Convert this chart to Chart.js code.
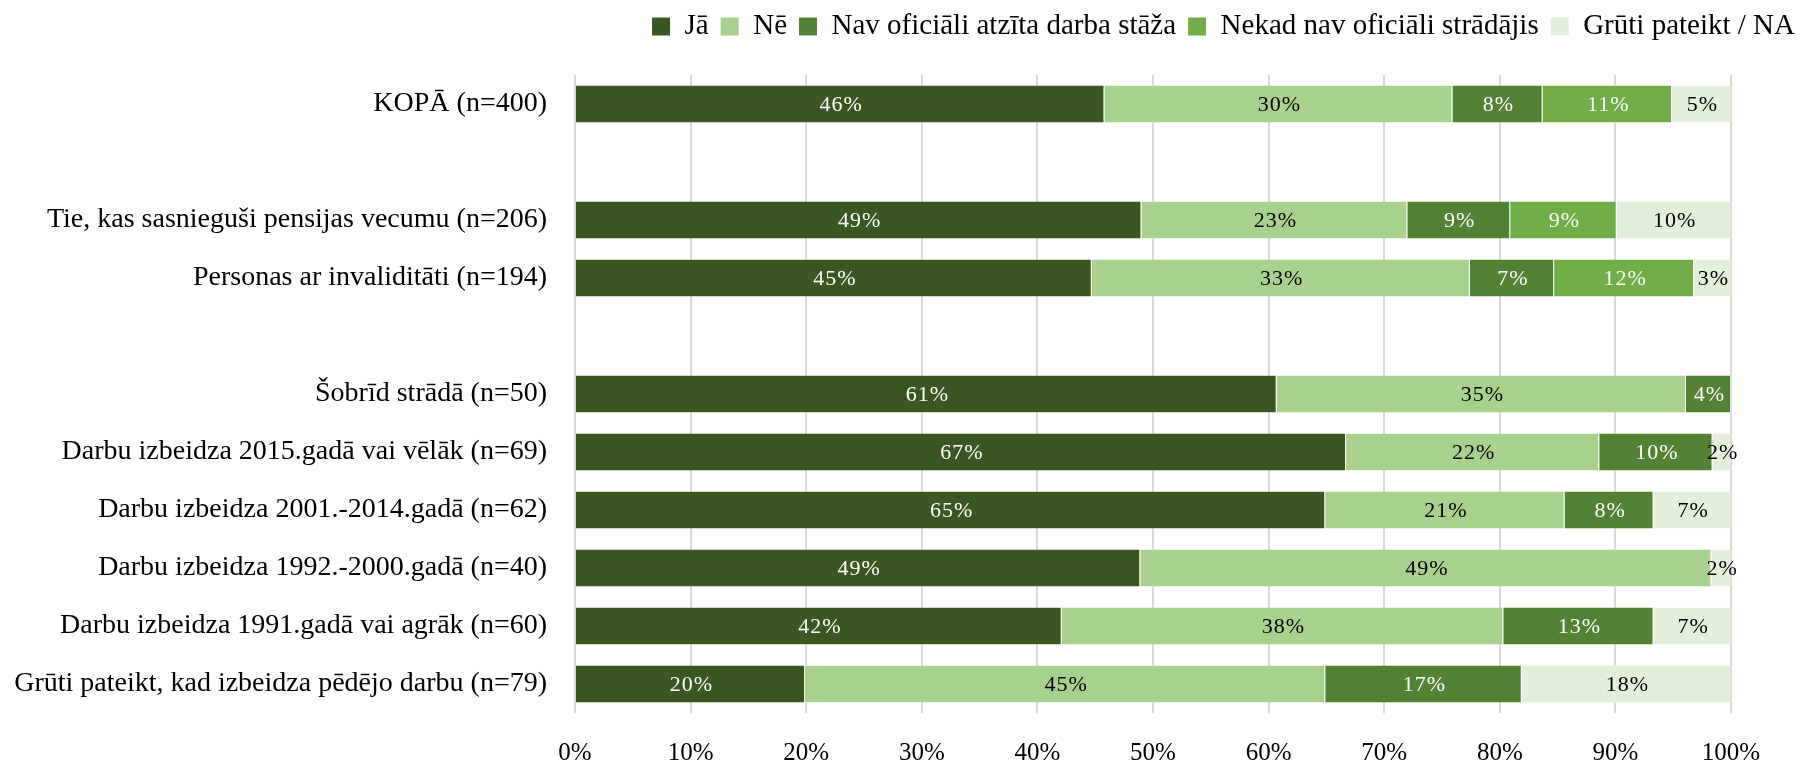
<!DOCTYPE html>
<html>
<head>
<meta charset="utf-8">
<script src="https://cdn.jsdelivr.net/npm/chart.js@4.4.0/dist/chart.umd.min.js"></script>
<style>
  body { margin: 0; background: #fff; }
  #wrap { width: 1807px; height: 763px; }
</style>
</head>
<body>
<div id="wrap"><canvas id="work-chart"></canvas></div>
<script>
// rows (empty strings are spacer rows between groups)
let labels = [
  'KOPĀ (n=400)',
  '',
  'Tie, kas sasnieguši pensijas vecumu (n=206)',
  'Personas ar invaliditāti (n=194)',
  '',
  'Šobrīd strādā (n=50)',
  'Darbu izbeidza 2015.gadā vai vēlāk (n=69)',
  'Darbu izbeidza 2001.-2014.gadā (n=62)',
  'Darbu izbeidza 1992.-2000.gadā (n=40)',
  'Darbu izbeidza 1991.gadā vai agrāk (n=60)',
  'Grūti pateikt, kad izbeidza pēdējo darbu (n=79)'
];
let ja    = [45.8, null, 49.0, 44.7, null, 60.7, 66.7, 64.9, 48.9, 42.1, 19.9];
let ne    = [30.1, null, 23.0, 32.7, null, 35.4, 21.9, 20.7, 49.4, 38.2, 45.0];
let nav   = [7.8,  null, 8.9,  7.3,  null, 3.9,  9.8,  7.7,  0,    13.0, 17.0];
let nekad = [11.2, null, 9.2,  12.1, null, 0,    0,    0,    0,    0,    0];
let gruti = [5.1,  null, 9.9,  3.2,  null, 0,    1.6,  6.7,  1.7,  6.7,  18.1];
let xTicks = [0, 10, 20, 30, 40, 50, 60, 70, 80, 90, 100];

Chart.defaults.font.family = '"Liberation Serif", "Times New Roman", serif';
Chart.defaults.color = '#000';

// percent labels in the middle of each segment
const barValues = {
  id: 'barValues',
  afterDatasetsDraw(chart) {
    const ctx = chart.ctx;
    ctx.save();
    ctx.font = '22px "Liberation Serif"';
    ctx.letterSpacing = '1px';
    ctx.textAlign = 'center';
    ctx.textBaseline = 'middle';
    chart.data.datasets.forEach((ds, i) => {
      chart.getDatasetMeta(i).data.forEach((bar, j) => {
        const v = ds.data[j];
        if (!v) return;
        const p = bar.getProps(['x', 'y', 'base'], true);
        ctx.fillStyle = ds.labelColor;
        ctx.fillText(Math.round(v) + '%', (p.x + p.base) / 2 + 1, p.y + 1);
      });
    });
    ctx.restore();
  }
};

// extra room under the legend
const legendGap = {
  id: 'legendGap',
  afterInit(chart) {
    const fit = chart.legend.fit;
    chart.legend.fit = function() {
      fit.call(this);
      this.height += 24;
    };
  }
};

function makeSet(name, values, color, textColor) {
  return {
    label: name,
    data: values,
    backgroundColor: color,
    borderColor: 'rgba(255,255,255,0.35)',
    borderWidth: 1,
    labelColor: textColor,
    barPercentage: 0.66,
    categoryPercentage: 1
  };
}

var ctx = document.getElementById('work-chart').getContext('2d');
var myChart = new Chart(ctx, {
  type: 'bar',
  data: {
    labels: labels,
    datasets: [
      makeSet('Jā', ja, '#3a5723', '#fff'),
      makeSet('Nē', ne, '#a9d18e', '#000'),
      makeSet('Nav oficiāli atzīta darba stāža', nav, '#548235', '#fff'),
      makeSet('Nekad nav oficiāli strādājis', nekad, '#70ad47', '#fff'),
      makeSet('Grūti pateikt / NA', gruti, '#e2efda', '#000')
    ]
  },
  options: {
    indexAxis: 'y',
    responsive: true,
    maintainAspectRatio: false,
    animation: false,
    layout: { padding: { top: 0, right: 0, left: 0, bottom: 0 } },
    plugins: {
      tooltip: { enabled: false },
      legend: {
        position: 'top',
        align: 'end',
        labels: {
          boxWidth: 18,
          boxHeight: 18,
          padding: 12,
          color: '#000',
          font: { size: 29 },
          generateLabels(chart) {
            return Chart.defaults.plugins.legend.labels.generateLabels(chart)
              .map(l => Object.assign(l, { lineWidth: 0 }));
          }
        }
      }
    },
    scales: {
      x: {
        stacked: true,
        min: 0,
        max: 100,
        afterBuildTicks(scale) {
          scale.ticks = xTicks.map(v => ({ value: v }));
        },
        afterFit(scale) { scale.height = 50; },
        grid: { color: '#d9d9d9', lineWidth: 2, drawTicks: false },
        border: { display: false },
        ticks: {
          padding: 25,
          font: { size: 25 },
          callback: v => v + '%'
        }
      },
      y: {
        stacked: true,
        afterFit(scale) { scale.width = 575; },
        grid: { display: false },
        border: { display: false },
        ticks: {
          autoSkip: false,
          padding: 20,
          font: { size: 28 }
        }
      },
      padRight: {
        type: 'linear',
        position: 'right',
        display: true,
        afterFit(scale) { scale.width = 76; },
        grid: { display: false },
        border: { display: false },
        ticks: { display: false }
      }
    }
  },
  plugins: [barValues, legendGap]
});
</script>
</body>
</html>
